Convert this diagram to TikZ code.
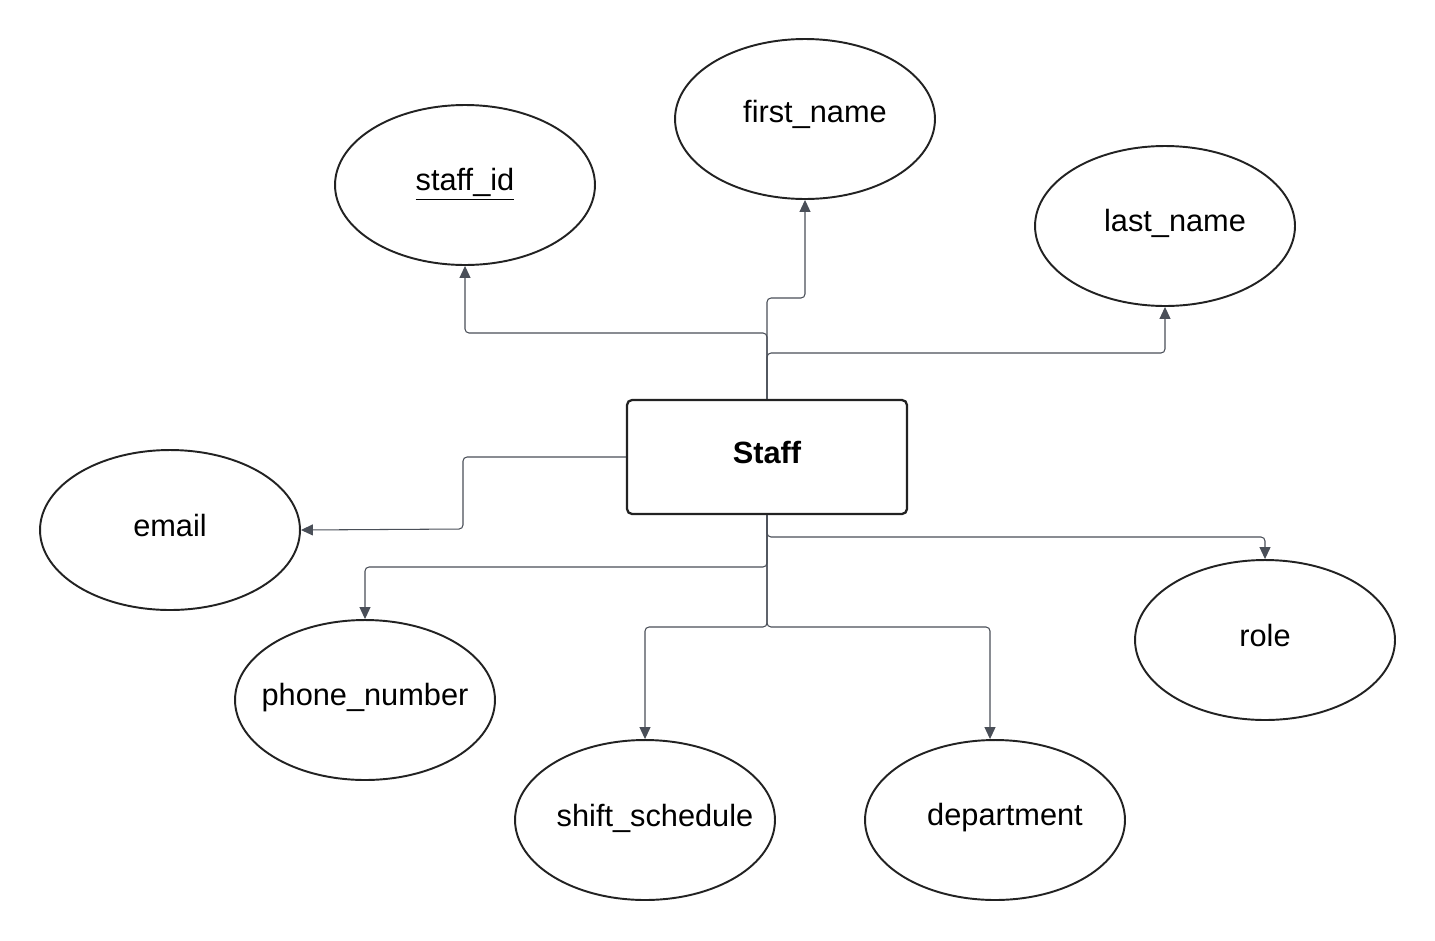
\documentclass[tikz,border=0pt]{standalone}
\usepackage{fontspec}
\setmainfont{Liberation Sans}
\usetikzlibrary{arrows.meta,calc,shapes.geometric}
\definecolor{linegray}{HTML}{4A4F58}
\definecolor{edgeblack}{HTML}{222222}

\begin{document}
\begin{tikzpicture}[x=0.02cm,y=-0.02cm,
    every node/.style={font=\fontsize{17.5}{21}\selectfont},
    attr/.style={ellipse, draw=edgeblack, line width=1.1pt, minimum width=5.2cm, minimum height=3.2cm, inner sep=0pt},
    lbl/.style={yshift=0.1cm},
    ent/.style={draw=edgeblack, line width=1.3pt, rounded corners=0.1cm, minimum width=5.6cm, minimum height=2.28cm},
    conn/.style={draw=linegray, line width=0.6pt, rounded corners=0.08cm, -{Triangle[length=0.24cm,width=0.22cm,fill=linegray]}}]
    \useasboundingbox (0,0) rectangle (1435,940);

    % entity
    \node[ent, label={[yshift=0.1cm,font=\fontsize{17.5}{21}\selectfont\bfseries]center:Staff}] (staff) at (767,457) {};

    % attributes
    \node[attr, label={[yshift=0.02cm]center:\underline{staff\_id}}] (sid) at (465,185) {};
    \node[attr, label={[lbl,xshift=0.2cm]center:first\_name}] (first) at (805,119) {};
    \node[attr, label={[yshift=0.06cm,xshift=0.2cm]center:last\_name}] (last) at (1165,226) {};
    \node[attr, label={[lbl]center:email}] (email) at (170,530) {};
    \node[attr, label={[yshift=0.04cm]center:phone\_number}] (phone) at (365,700) {};
    \node[attr, label={[yshift=0.04cm,xshift=0.2cm]center:shift\_schedule}] (shift) at (645,820) {};
    \node[attr, label={[yshift=0.04cm,xshift=0.2cm]center:department}] (dept) at (995,820) {};
    \node[attr, label={[lbl]center:role}] (role) at (1265,640) {};

    % connectors
    \draw[conn] (staff.north) |- (465,333) -- (sid.south);
    \draw[conn] (staff.north) |- (805,298) -- (first.south);
    \draw[conn] (staff.north) |- (1165,353) -- (last.south);
    \draw[conn] (staff.west) -| (463,529) -- (email.east);
    \draw[conn] (staff.south) |- (365,567) -- (phone.north);
    \draw[conn] (staff.south) |- (645,627) -- (shift.north);
    \draw[conn] (staff.south) |- (990,627) -- ($(dept.north)+(-5,0)$);
    \draw[conn] (staff.south) |- (1265,537) -- (role.north);
\end{tikzpicture}
\end{document}
